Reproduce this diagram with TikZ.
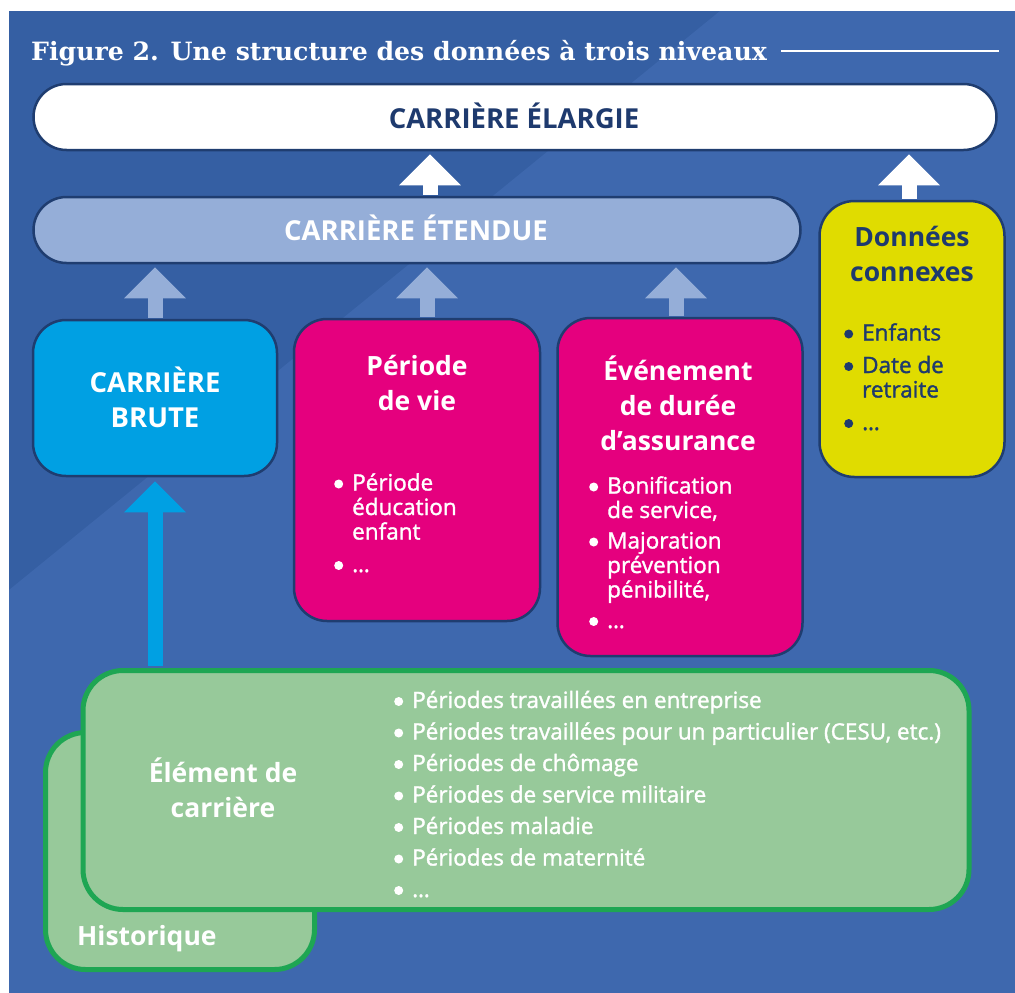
\documentclass[tikz,border=0pt]{standalone}
\usepackage{fontspec}
\setmainfont{Open Sans}
\newfontfamily\titleFont{DejaVu Serif}
\newfontfamily\listFont{Open Sans}[FakeBold=1.5]
\usetikzlibrary{arrows.meta}
\definecolor{bgDark}{RGB}{53,95,163}
\definecolor{bgLight}{RGB}{62,104,174}
\definecolor{edgeNavy}{RGB}{31,61,112}
\definecolor{textNavy}{RGB}{30,58,110}
\definecolor{paleBlue}{RGB}{149,174,216}
\definecolor{bruteBlue}{RGB}{0,160,227}
\definecolor{boxMagenta}{RGB}{229,0,126}
\definecolor{dataYellow}{RGB}{224,220,0}
\definecolor{eltGreen}{RGB}{151,201,154}
\definecolor{eltEdge}{RGB}{30,166,83}
% round bullet, text starts 18pt further right
\newcommand{\bul}{\makebox[18pt][l]{\tikz[baseline=0pt]\fill (4.3pt,6.5pt) circle[radius=4.5pt];}}
\newcommand{\ind}{\hspace*{18pt}}
\tikzset{
  box/.style={draw=edgeNavy, line width=2.5pt, rounded corners=33pt, inner sep=0pt},
  head/.style={font=\fontsize{26.5}{35}\selectfont\bfseries, text=white, align=center, anchor=base, inner sep=0pt},
  caps/.style={head, font=\fontsize{27.5}{35}\selectfont\bfseries},
  items/.style={font=\listFont\fontsize{22.5}{24.5}\selectfont, text=white, align=left, anchor=base west, inner sep=0pt},
  upArrow/.style={line width=15pt, -{Triangle[width=60pt,length=31pt]}, shorten >=3pt, shorten <=1.25pt}
}
\begin{document}
\begin{tikzpicture}[x=1pt, y=-1pt]
  \useasboundingbox (0,0) rectangle (1015,993);
  % background, darker corner top left
  \fill[bgDark] (9,11) rectangle (1015,993);
  \fill[bgLight] (720,11) -- (1015,11) -- (1015,993) -- (9,993) -- (9,590) -- cycle;
  \node[font=\titleFont\bfseries\fontsize{25.2}{30}\selectfont, text=white, anchor=base west, inner sep=0pt] (title) at (31,60)
    {Figure 2. Une structure des données à trois niveaux};
  \draw[white, line width=1.5pt] (title.base east) ++(14,-9) -- (999,51);
  % boxes
  \node[box, fill=white, minimum width=963pt, minimum height=66pt] (elargie) at (515,117) {};
  \node[box, fill=paleBlue, minimum width=767pt, minimum height=66pt] (etendue) at (417,230) {};
  \node[box, fill=dataYellow, rounded corners=35pt, minimum width=185pt, minimum height=276pt] (connexes) at (912,339) {};
  \node[box, fill=bruteBlue, minimum width=244pt, minimum height=156pt] (brute) at (155,398) {};
  \node[box, fill=boxMagenta, minimum width=246pt, minimum height=302pt] (vie) at (417,470) {};
  \node[box, fill=boxMagenta, minimum width=245pt, minimum height=338pt] (evenement) at (680,487) {};
  \node[box, draw=eltEdge, line width=5pt, fill=eltGreen, rounded corners=40pt, minimum width=269pt, minimum height=237pt] (historique) at (180,851) {};
  \node[box, draw=eltEdge, line width=5pt, fill=eltGreen, rounded corners=40pt, minimum width=886pt, minimum height=239pt] (element) at (526,790) {};
  % arrows
  \draw[upArrow, white] ([xshift=13pt]etendue.north) -- ([xshift=13pt]etendue.north |- elargie.south);
  \draw[upArrow, white] ([xshift=-3pt]connexes.north) -- ([xshift=-3pt]connexes.north |- elargie.south);
  \draw[upArrow, paleBlue] (brute.north) -- (brute.north |- etendue.south);
  \draw[upArrow, paleBlue] ([xshift=10pt]vie.north) -- ([xshift=10pt]vie.north |- etendue.south);
  \draw[upArrow, paleBlue] ([xshift=-4pt]evenement.north) -- ([xshift=-4pt]evenement.north |- etendue.south);
  \draw[upArrow, bruteBlue, shorten >=4pt, shorten <=2.5pt] (element.north -| brute.south) -- (brute.south);
  % texts (multi-line nodes sit on their last baseline)
  \node[caps, text=textNavy] (elargieText) at (514,128) {CARRIÈRE ÉLARGIE};
  \node[caps] (etendueText) at (416,240) {CARRIÈRE ÉTENDUE};
  \node[head, text=textNavy] (connexesText) at (912,281) {Données\\connexes};
  \node[caps] (bruteText) at (155,427) {CARRIÈRE\\BRUTE};
  \node[head] (vieText) at (417,410) {Période\\de vie};
  \node[head] (evenementText) at (678,450) {Événement\\de durée\\d’assurance};
  \node[head] (elementText) at (223,817) {Élément de\\carrière};
  \node[head, anchor=base west] (historiqueText) at (77,945) {Historique};
  \node[items, text=textNavy] (connexesList) at (844,430)
    {\bul Enfants\\[8pt]\bul Date de\\\ind retraite\\[8pt]\bul …};
  \node[items] (vieList) at (334,572)
    {\bul Période\\\ind éducation\\\ind enfant\\[8pt]\bul …};
  \node[items] (evenementList) at (589,628)
    {\bul Bonification\\\ind de service,\\[6pt]\bul Majoration\\\ind prévention\\\ind pénibilité,\\[6pt]\bul …};
  \node[items, font=\listFont\fontsize{22.5}{31.5}\selectfont] (elementList) at (394,897)
    {\bul Périodes travaillées en entreprise\\
     \bul Périodes travaillées pour un particulier (CESU, etc.)\\
     \bul Périodes de chômage\\
     \bul Périodes de service militaire\\
     \bul Périodes maladie\\
     \bul Périodes de maternité\\
     \bul …};
\end{tikzpicture}
\end{document}
